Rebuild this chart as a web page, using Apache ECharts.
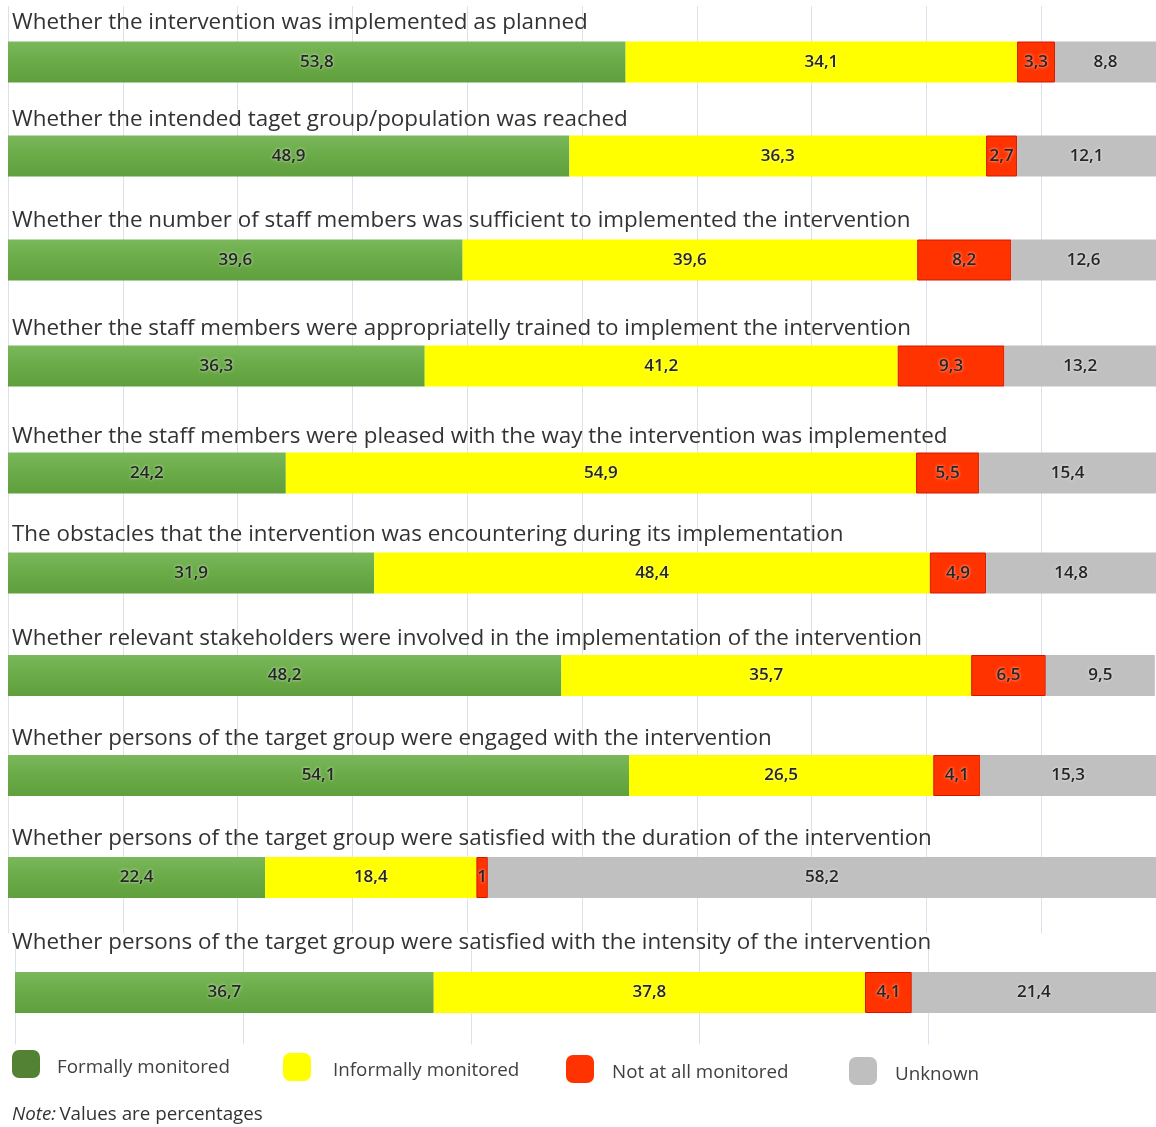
<!DOCTYPE html>
<html>
<head>
<meta charset="utf-8">
<title>Monitoring of intervention implementation</title>
<script src="https://cdn.jsdelivr.net/npm/echarts@6/dist/echarts.min.js"></script>
<style>
  html, body { margin: 0; padding: 0; background: #ffffff; }
  #chart { width: 1156px; height: 1127px; }
</style>
</head>
<body>
<div id="chart"></div>
<script>
// Survey items (one stacked bar each)
const questions = [
  'Whether the intervention was implemented as planned',
  'Whether the intended taget group/population was reached',
  'Whether the number of staff members was sufficient to implemented the intervention',
  'Whether the staff members were appropriatelly trained to implement the intervention',
  'Whether the staff members were pleased with the way the intervention was implemented',
  'The obstacles that the intervention was encountering during its implementation',
  'Whether relevant stakeholders were involved in the implementation of the intervention',
  'Whether persons of the target group were engaged with the intervention',
  'Whether persons of the target group were satisfied with the duration of the intervention',
  'Whether persons of the target group were satisfied with the intensity of the intervention'
];

// Shares in percent, one entry per item
const formally   = [53.8, 48.9, 39.6, 36.3, 24.2, 31.9, 48.2, 54.1, 22.4, 36.7];
const informally = [34.1, 36.3, 39.6, 41.2, 54.9, 48.4, 35.7, 26.5, 18.4, 37.8];
const notAtAll   = [3.3, 2.7, 8.2, 9.3, 5.5, 4.9, 6.5, 4.1, 1, 4.1];
const unknown    = [8.8, 12.1, 12.6, 13.2, 15.4, 14.8, 9.5, 15.3, 58.2, 21.4];

const seriesNames = ['Formally monitored', 'Informally monitored', 'Not at all monitored', 'Unknown'];
const noteText = 'Values are percentages';

// Layout of the panels (pixel centres of each bar and its heading)
const barCenters   = [62, 156, 260, 366, 473, 573, 675.5, 775.5, 877.5, 992.5];
const titleCenters = [21, 118, 219, 327, 435, 533, 637, 737, 837, 941];

const FONT = '"Open Sans", "Noto Sans", sans-serif';

const values = [formally, informally, notAtAll, unknown];
const barStyles = [
  {
    color: new echarts.graphic.LinearGradient(0, 0, 0, 1, [
      { offset: 0, color: '#7ab85b' },
      { offset: 0.5, color: '#6aaa47' },
      { offset: 1, color: '#5f9f3d' }
    ])
  },
  { color: '#ffff00' },
  { color: '#ff3300', borderColor: '#d01800', borderWidth: 1 },
  { color: '#c0c0c0' }
];
const legendColors = ['#548235', '#ffff00', '#ff3300', '#bfbfbf'];
const legendLeft = [12, 283, 566, 849];
const legendTop = [1050, 1053, 1055, 1057];
const legendTextPad = [12, 17, 13, 13];

const fmt = v => String(v).replace('.', ',');

const grids = [], xAxes = [], yAxes = [], series = [], titles = [];
questions.forEach((q, i) => {
  const last = i === questions.length - 1;
  grids.push(last
    ? { left: 15, right: -3, top: barCenters[i] - 52, height: 104 }
    : { left: 8, right: -4, top: barCenters[i] - 56, height: 112 });
  xAxes.push({
    gridIndex: i, type: 'value', min: 0, max: 100, interval: last ? 20 : 10,
    axisLabel: { show: false }, axisLine: { show: false }, axisTick: { show: false },
    splitLine: { show: true, lineStyle: { color: '#dce2eb', width: 1 } }
  });
  yAxes.push({
    gridIndex: i, type: 'category', data: [q],
    axisLabel: { show: false }, axisLine: { show: false }, axisTick: { show: false },
    splitLine: { show: false }
  });
  titles.push({
    text: q, left: 12, top: titleCenters[i] - 12, padding: 0,
    textStyle: { fontFamily: FONT, fontSize: 22.4, fontWeight: 'normal', lineHeight: 28, color: '#333333' }
  });
  seriesNames.forEach((name, k) => {
    series.push({
      name, type: 'bar', stack: 'row' + i, xAxisIndex: i, yAxisIndex: i,
      barWidth: 41, silent: true,
      itemStyle: barStyles[k],
      label: {
        show: true, position: 'inside', formatter: p => fmt(p.value),
        fontFamily: FONT, fontSize: 17, fontWeight: 600, color: '#262626',
        textShadowColor: 'rgba(255,255,255,0.75)', textShadowBlur: 3
      },
      data: [values[k][i]]
    });
  });
});

// Legend entries sit on a slight slant; text a little below the swatch centre
const legends = seriesNames.map((name, k) => ({
  data: [{ name, itemStyle: { color: legendColors[k], borderWidth: 0 } }],
  left: legendLeft[k], top: legendTop[k], padding: 0,
  icon: 'roundRect', itemWidth: 28, itemHeight: 28, selectedMode: false,
  formatter: n => '{t|' + n + '}',
  textStyle: {
    rich: {
      t: {
        fontFamily: FONT, fontSize: 18.8, color: '#404040',
        padding: [8, 0, 0, legendTextPad[k]]
      }
    }
  }
}));

const chart = echarts.init(document.getElementById('chart'), null, { renderer: 'canvas' });
chart.setOption({
  backgroundColor: '#ffffff',
  animation: false,
  title: titles,
  legend: legends,
  grid: grids,
  xAxis: xAxes,
  yAxis: yAxes,
  series,
  graphic: [{
    type: 'text', left: 12, top: 1105,
    style: {
      text: '{i|Note:} {n|' + noteText + '}',
      rich: {
        i: { fontFamily: FONT, fontSize: 18.8, fontStyle: 'italic', fill: '#333333' },
        n: { fontFamily: FONT, fontSize: 18.8, fill: '#333333' }
      }
    }
  }]
});
</script>
</body>
</html>
